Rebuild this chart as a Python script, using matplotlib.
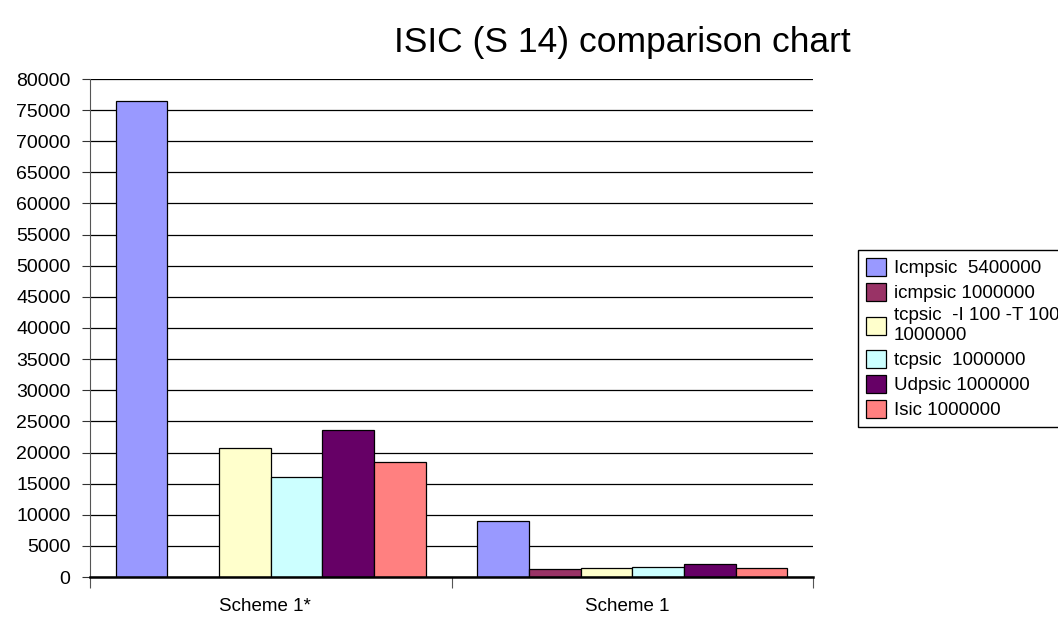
"""
ISIC (S 14) 对比柱状图
"""

import numpy as np
import matplotlib.pyplot as plt

plt.rcParams["font.family"] = ["Liberation Sans", "DejaVu Sans"]

categories = ["Scheme 1*", "Scheme 1"]
series_names = [
    "Icmpsic  5400000",
    "icmpsic 1000000",
    "tcpsic  -I 100 -T 100\n1000000",
    "tcpsic  1000000",
    "Udpsic 1000000",
    "Isic 1000000",
]
# 每个系列在两个方案下的取值（Scheme 1* 中 icmpsic 1000000 无数据）
icmpsic_5400000 = [76500, 9050]
icmpsic_1000000 = [np.nan, 1300]
tcpsic_it = [20700, 1500]
tcpsic_1000000 = [16100, 1550]
udpsic_1000000 = [23600, 2050]
isic_1000000 = [18450, 1450]
series_values = [
    icmpsic_5400000,
    icmpsic_1000000,
    tcpsic_it,
    tcpsic_1000000,
    udpsic_1000000,
    isic_1000000,
]
colors = ["#9999FF", "#993366", "#FFFFCC", "#CCFFFF", "#660066", "#FF8080"]
y_ticks = np.arange(0, 80001, 5000)

fig = plt.figure(figsize=(10.58, 6.18), dpi=100)
ax = fig.add_axes([90 / 1058, 41 / 618, 723 / 1058, 498 / 618])

n = len(series_names)
width = 1 / (n + 1)
x = np.arange(len(categories))
for i, (name, vals, c) in enumerate(zip(series_names, series_values, colors)):
    ax.bar(x + (i - (n - 1) / 2) * width, vals, width, color=c,
           edgecolor="black", linewidth=0.9, label=name, zorder=3)

ax.set_xlim(-0.5, len(categories) - 0.5)
ax.set_ylim(0, 80000)
ax.set_yticks(y_ticks)
ax.set_yticklabels([str(v) for v in y_ticks], fontsize=14)
ax.yaxis.grid(True, color="black", linewidth=0.9, zorder=0)

# 类别分隔处画刻度，类别名放在次刻度上
ax.set_xticks(np.arange(-0.5, len(categories), 1.0))
ax.set_xticklabels([])
ax.set_xticks(x - 0.015, minor=True)
ax.set_xticklabels(categories, minor=True, fontsize=13.5)
ax.tick_params(axis="x", which="major", length=8, color="#555555")
ax.tick_params(axis="x", which="minor", length=0, pad=15)
ax.tick_params(axis="y", length=6, color="#333333", pad=8)

for s in ["top", "right"]:
    ax.spines[s].set_visible(False)
ax.spines["bottom"].set_linewidth(1.8)
ax.spines["bottom"].set_zorder(4)
ax.spines["left"].set_color("#555555")

fig.text(0.588, 0.932, "ISIC (S 14) comparison chart", fontsize=25.5,
         ha="center", va="center")

fig.legend(loc="upper left", bbox_to_anchor=(858 / 1058, 1 - 250 / 618),
           fontsize=13.5, frameon=True, fancybox=False, edgecolor="black",
           framealpha=1, handlelength=1.1, handleheight=1.1,
           borderpad=0.4, labelspacing=0.3, handletextpad=0.4,
           borderaxespad=0)

fig.savefig("out.png", dpi=100)
plt.close(fig)
